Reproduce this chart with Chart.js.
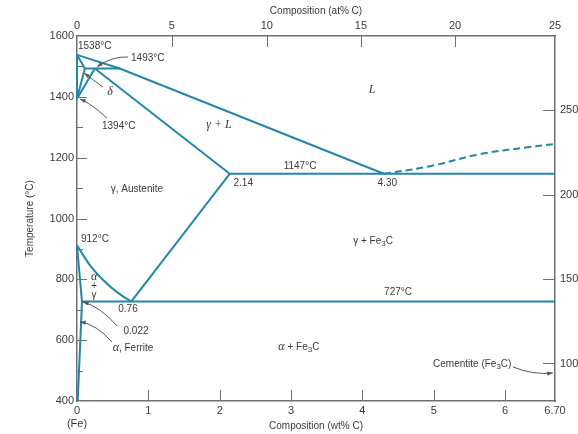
<!DOCTYPE html>
<html>
<head>
<meta charset="utf-8">
<script src="https://cdn.jsdelivr.net/npm/chart.js@4"></script>
<style>
  html, body { margin: 0; background: #fff; }
</style>
</head>
<body>
<canvas id="c" width="578" height="434"></canvas>
<script>
// phase boundaries, [wt% C, °C]
const pureFe = [[0, 1538], [0, 1394]];
const deltaSolidus = [[0, 1538], [0.11, 1493]];
const deltaSolvus = [[0.11, 1493], [0, 1394]];
const gammaDelta = [[0, 1394], [0.25, 1493]];
const peritectic = [[0.11, 1493], [0.6, 1493]];
const liquidus = [[0, 1538], [0.6, 1493], [4.30, 1147]];
const liquidusFe3C = [[4.30, 1147], [4.95, 1172], [5.65, 1212], [6.35, 1235], [6.70, 1245]];
const gammaSolidus = [[0.25, 1493], [2.14, 1147]];
const eutectic = [[2.14, 1147], [6.70, 1147]];
const acm = [[2.14, 1147], [0.76, 727]];
const a3 = [[0, 912], [0.18, 847], [0.37, 797], [0.56, 758], [0.76, 727]];
const alphaGamma = [[0, 912], [0.07, 727]];
const eutectoid = [[0.07, 727], [6.70, 727]];
const alphaSolvus = [[0.07, 727], [0.01, 400]];

// axes
const wtTicks = [0, 1, 2, 3, 4, 5, 6, 6.7];
const atTickWt = [0, 1.33, 2.66, 3.98, 5.30, 6.70];
const atTickLabels = ['0', '5', '10', '15', '20', '25'];
const fTicks = [1000, 1500, 2000, 2500];
const fRange = [778, 2938];

const LINE = '#2387a7';
const FRAME = '#707070';
const INK = '#3a3a3a';
const SANS = '"Liberation Sans", Arial, sans-serif';

const notes = [
  { text: '1538°C', at: [0.014, 1567], align: 'left' },
  { text: '1493°C', at: [0.757, 1528], align: 'left' },
  { text: '*δ*', at: [0.463, 1416] },
  { text: '1394°C', at: [0.35, 1304], align: 'left' },
  { text: '*γ + L*', at: [1.99, 1307] },
  { text: '*L*', at: [4.135, 1422] },
  { text: '1147°C', at: [3.126, 1173] },
  { text: '2.14', at: [2.33, 1117] },
  { text: '4.30', at: [4.35, 1117] },
  { text: 'γ, Austenite', at: [0.84, 1097] },
  { text: '912°C', at: [0.056, 933], align: 'left' },
  { text: 'γ + Fe_3C', at: [4.15, 926] },
  { text: '*α*', at: [0.24, 808] },
  { text: '+', at: [0.24, 778] },
  { text: 'γ', at: [0.24, 749] },
  { text: '727°C', at: [4.50, 758] },
  { text: '0.76', at: [0.715, 702] },
  { text: '0.022', at: [0.827, 630] },
  { text: '*α*, Ferrite', at: [0.785, 574] },
  { text: '*α* + Fe_3C', at: [3.11, 578] },
  { text: 'Cementite (Fe_3C)', at: [5.54, 522] }
];

const leaders = [
  [[0.715, 1531], [0.49, 1534], [0.28, 1498]],
  [[0.364, 1432], [0.21, 1459], [0.098, 1478]],
  [[0.42, 1330], [0.21, 1376], [0.042, 1393]],
  [[0.56, 647], [0.32, 712], [0.084, 725]],
  [[0.49, 594], [0.27, 653], [0.042, 660]],
  [[6.11, 512], [6.39, 485], [6.67, 492]]
];

function line(pts, dashed) {
  return {
    data: pts.map(p => ({ x: p[0], y: p[1] })),
    showLine: true,
    borderColor: LINE,
    borderWidth: 2,
    borderDash: dashed ? [7, 4] : [],
    pointRadius: 0,
    tension: pts.length > 3 ? 0.35 : 0,
    clip: false
  };
}

function parse(str) {
  const segs = [];
  let it = false, buf = '';
  for (let i = 0; i < str.length; i++) {
    const c = str[i];
    if (c === '*') { if (buf) segs.push({ t: buf, it }); buf = ''; it = !it; continue; }
    if (c === '_') { if (buf) segs.push({ t: buf, it }); buf = ''; segs.push({ t: str[++i], sub: true }); continue; }
    buf += c;
  }
  if (buf) segs.push({ t: buf, it });
  return segs;
}

function fontFor(s) {
  if (s.it) return 'italic 12px "Liberation Serif", "DejaVu Serif", serif';
  if (s.sub) return '8px ' + SANS;
  return '10px ' + SANS;
}

function drawRich(ctx, str, x, y, align) {
  const segs = parse(str);
  const widths = segs.map(s => { ctx.font = fontFor(s); return ctx.measureText(s.t).width; });
  const total = widths.reduce((a, b) => a + b, 0);
  let cx = align === 'left' ? x : x - total / 2;
  ctx.textAlign = 'left';
  ctx.textBaseline = 'middle';
  segs.forEach((s, i) => {
    ctx.font = fontFor(s);
    ctx.fillText(s.t, cx, s.sub ? y + 3 : y);
    cx += widths[i];
  });
}

const annotate = {
  id: 'annotate',
  afterDraw(chart) {
    const { ctx } = chart;
    const { x, y, x2, y2 } = chart.scales;
    ctx.save();
    // inward tick marks
    ctx.strokeStyle = FRAME;
    ctx.lineWidth = 1;
    ctx.beginPath();
    x.ticks.forEach(t => {
      if (t.value <= 0 || t.value >= 6.7) return;
      const px = Math.round(x.getPixelForValue(t.value)) + 0.5;
      ctx.moveTo(px, x.top); ctx.lineTo(px, x.top - 11);
    });
    x2.ticks.forEach(t => {
      if (t.value <= 0 || t.value >= 6.7) return;
      const px = Math.round(x2.getPixelForValue(t.value)) + 0.5;
      ctx.moveTo(px, x2.bottom); ctx.lineTo(px, x2.bottom + 11);
    });
    y.ticks.forEach(t => {
      if (t.value <= 400 || t.value >= 1600) return;
      const py = Math.round(y.getPixelForValue(t.value)) + 0.5;
      ctx.moveTo(y.right, py); ctx.lineTo(y.right + (t.value % 200 === 0 ? 10 : 6), py);
    });
    y2.ticks.forEach(t => {
      const py = Math.round(y2.getPixelForValue(t.value)) + 0.5;
      ctx.moveTo(y2.left, py); ctx.lineTo(y2.left - 12, py);
    });
    ctx.stroke();

    // leaders
    ctx.strokeStyle = '#555';
    ctx.fillStyle = '#555';
    leaders.forEach(([a, c, b]) => {
      const x0 = x.getPixelForValue(a[0]), y0 = y.getPixelForValue(a[1]);
      const cx = x.getPixelForValue(c[0]), cy = y.getPixelForValue(c[1]);
      const x1 = x.getPixelForValue(b[0]), y1 = y.getPixelForValue(b[1]);
      ctx.beginPath(); ctx.moveTo(x0, y0); ctx.quadraticCurveTo(cx, cy, x1, y1); ctx.stroke();
      const ang = Math.atan2(y1 - cy, x1 - cx);
      ctx.beginPath();
      ctx.moveTo(x1, y1);
      ctx.lineTo(x1 - 6 * Math.cos(ang - 0.35), y1 - 6 * Math.sin(ang - 0.35));
      ctx.lineTo(x1 - 6 * Math.cos(ang + 0.35), y1 - 6 * Math.sin(ang + 0.35));
      ctx.closePath(); ctx.fill();
    });

    // labels
    ctx.fillStyle = INK;
    notes.forEach(n => {
      drawRich(ctx, n.text, x.getPixelForValue(n.at[0]), y.getPixelForValue(n.at[1]), n.align);
    });
    ctx.restore();
  }
};

const tickFont = { family: SANS, size: 11 };
const titleFont = { family: SANS, size: 10 };

new Chart(document.getElementById('c'), {
  type: 'scatter',
  data: {
    datasets: [
      line(pureFe), line(deltaSolidus), line(deltaSolvus), line(gammaDelta), line(peritectic),
      line(liquidus), line(liquidusFe3C, true), line(gammaSolidus), line(eutectic), line(acm),
      line(a3), line(alphaGamma), line(eutectoid), line(alphaSolvus)
    ]
  },
  options: {
    responsive: false,
    animation: false,
    devicePixelRatio: 1,
    layout: { padding: 0 },
    plugins: { legend: { display: false }, tooltip: { enabled: false } },
    scales: {
      x: {
        type: 'linear', position: 'bottom', min: 0, max: 6.7,
        afterFit: s => { s.height = 33; },
        afterBuildTicks: s => { s.ticks = wtTicks.map(v => ({ value: v })); },
        grid: { display: false, drawTicks: false },
        border: { display: true, color: FRAME, width: 1.5 },
        ticks: {
          autoSkip: false, maxRotation: 0, padding: 3, color: INK, font: tickFont,
          callback: v => v === 0 ? ['0', '(Fe)'] : (v === 6.7 ? '6.70' : String(v))
        },
        title: { display: true, text: 'Composition (wt% C)', color: INK, font: titleFont, padding: { top: 0, bottom: 2 } }
      },
      x2: {
        type: 'linear', position: 'top', min: 0, max: 6.7,
        afterFit: s => { s.height = 36; },
        afterBuildTicks: s => { s.ticks = atTickWt.map(v => ({ value: v })); },
        grid: { display: false, drawTicks: false },
        border: { display: true, color: FRAME, width: 1.5 },
        ticks: {
          autoSkip: false, maxRotation: 0, padding: 3, color: INK, font: tickFont,
          callback: v => atTickLabels[atTickWt.indexOf(v)]
        },
        title: { display: true, text: 'Composition (at% C)', color: INK, font: titleFont, padding: { top: 5, bottom: 0 } }
      },
      y: {
        type: 'linear', position: 'left', min: 400, max: 1600,
        afterFit: s => { s.width = 77; },
        grid: { display: false, drawTicks: false },
        border: { display: true, color: FRAME, width: 1.5 },
        ticks: {
          stepSize: 100, autoSkip: false, padding: 3, color: INK, font: tickFont,
          callback: v => v % 200 === 0 ? String(v) : ''
        },
        title: { display: true, text: 'Temperature (°C)', color: INK, font: titleFont, padding: { top: 24, bottom: 0 } }
      },
      y2: {
        type: 'linear', position: 'right', min: fRange[0], max: fRange[1],
        afterFit: s => { s.width = 23; },
        afterBuildTicks: s => { s.ticks = fTicks.map(v => ({ value: v })); },
        grid: { display: false, drawTicks: false },
        border: { display: true, color: FRAME, width: 1.5 },
        ticks: { autoSkip: false, padding: 5, color: INK, font: tickFont, callback: v => String(v) }
      }
    }
  },
  plugins: [annotate]
});
</script>
</body>
</html>
